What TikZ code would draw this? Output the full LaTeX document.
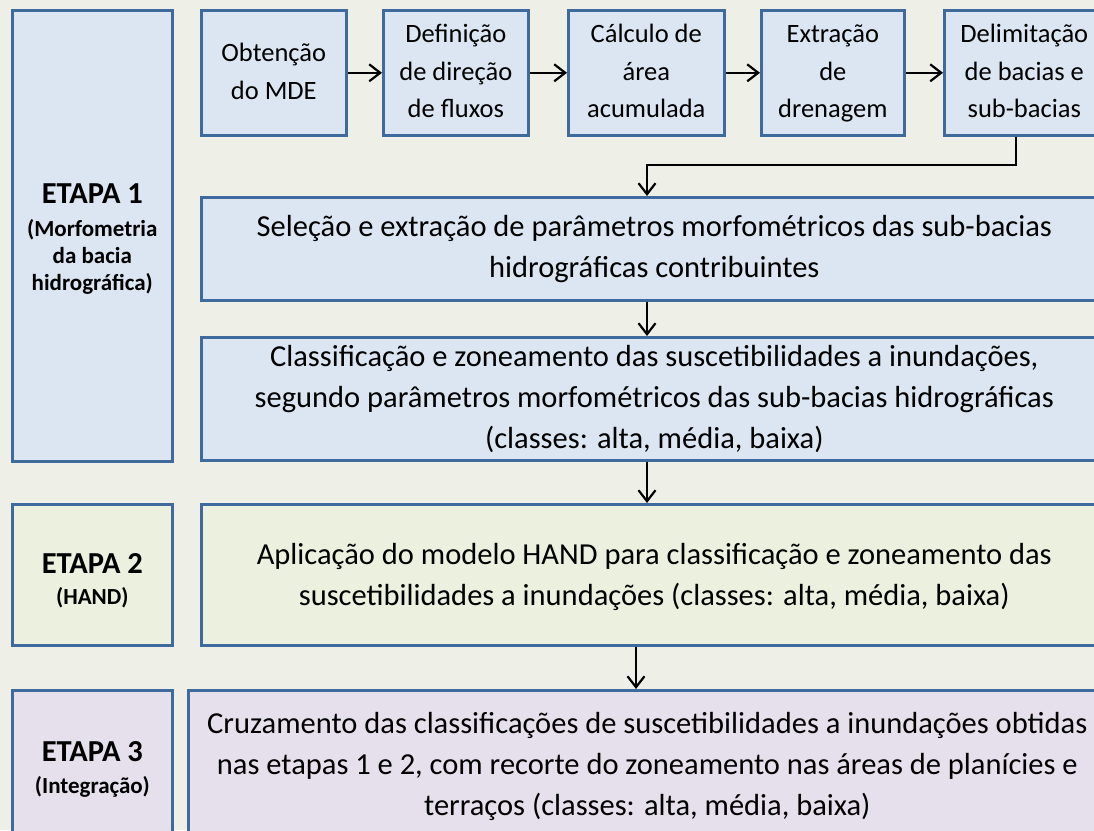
\documentclass[tikz,border=0pt]{standalone}
\usepackage{fontspec}
\setmainfont{Carlito}
\usetikzlibrary{arrows.meta}
\definecolor{bgcol}{HTML}{EEF0E8}
\definecolor{bordercol}{HTML}{3F6A9E}
\definecolor{bluefill}{HTML}{DCE6F2}
\definecolor{greenfill}{HTML}{EBF1DE}
\definecolor{purplefill}{HTML}{E5E0EC}
\newcommand{\topfont}{\fontsize{26.5}{37.5}\selectfont}
\newcommand{\widefont}{\fontsize{30.5}{41}\selectfont}
\newcommand{\etapafont}{\fontsize{30.5}{33}\selectfont\bfseries}
\newcommand{\subfontx}{\fontsize{23}{27}\selectfont\bfseries}
\tikzset{
  box/.style={draw=bordercol, line width=2.6pt, inner sep=0pt, align=center, anchor=north west},
  bluebox/.style={box, fill=bluefill},
  greenbox/.style={box, fill=greenfill},
  purplebox/.style={box, fill=purplefill},
  arr/.style={line width=2.2pt, -{Straight Barb[length=11pt,width=17pt,line width=2.2pt]}},
}
\begin{document}
\begin{tikzpicture}[x=1pt,y=-1pt]
\useasboundingbox (0,0) rectangle (1094,830);
\fill[bgcol] (0,0) rectangle (1094,830);
\begin{scope}
\clip (0,0) rectangle (1094,830);
% Etapa boxes
\node[bluebox, minimum width=160pt, minimum height=451pt, font=\subfontx] (e1) at (11,9)
  {{\etapafont\rule{0pt}{27pt}ETAPA 1}\\[6pt](Morfometria\\da bacia\\hidrográfica)};
\node[greenbox, minimum width=160pt, minimum height=141pt, font=\subfontx] (e2) at (11,503)
  {{\etapafont\rule{0pt}{31pt}ETAPA 2}\\[4pt](HAND)};
\node[purplebox, minimum width=160pt, minimum height=152pt, font=\subfontx] (e3) at (11,689)
  {{\etapafont\rule{0pt}{27pt}ETAPA 3}\\[5pt](Integração)};
% top row
\node[bluebox, minimum width=145pt, minimum height=125pt, font=\topfont] (obt) at (200,9) {\strut Obtenção\\do MDE\strut};
\node[bluebox, minimum width=145pt, minimum height=125pt, font=\topfont] (def) at (382,9) {\strut Definição\\de direção\\de fluxos\strut};
\node[bluebox, minimum width=156pt, minimum height=125pt, font=\topfont] (cal) at (567,9) {\strut Cálculo de\\área\\acumulada\strut};
\node[bluebox, minimum width=143pt, minimum height=125pt, font=\topfont] (ext) at (760,9) {\strut Extração\\de\\drenagem\strut};
\node[bluebox, minimum width=160pt, minimum height=125pt, font=\topfont] (del) at (943,9) {\strut Delimitação\\de bacias e\\sub-bacias\strut};
% wide boxes
\node[bluebox, minimum width=906pt, minimum height=103pt, font=\widefont] (sel) at (200,196)
  {\strut Seleção e extração de parâmetros morfométricos das sub-bacias\\hidrográficas contribuintes\strut};
\node[bluebox, minimum width=906pt, minimum height=122pt, font=\widefont] (cla) at (200,336)
  {\strut Classificação e zoneamento das suscetibilidades a inundações,\\segundo parâmetros morfométricos das sub-bacias hidrográficas\\(classes: alta, média, baixa)\strut};
\node[greenbox, minimum width=906pt, minimum height=141pt, font=\widefont] (hand) at (200,503)
  {\rule{0pt}{32pt}Aplicação do modelo HAND para classificação e zoneamento das\\suscetibilidades a inundações (classes: alta, média, baixa)\strut};
\node[purplebox, minimum width=918pt, minimum height=152pt, font=\widefont] (cru) at (187,689)
  {\strut Cruzamento das classificações de suscetibilidades a inundações obtidas\\nas etapas 1 e 2, com recorte do zoneamento nas áreas de planícies e\\terraços (classes: alta, média, baixa)\strut};
% connectors
\draw[arr] (obt) -- (def);
\draw[arr] (def) -- (cal);
\draw[arr] (cal) -- (ext);
\draw[arr] (ext) -- (del);
\coordinate (k) at (1016,165);
\coordinate (j) at (647,165);
\coordinate (m) at (636,650);
\draw[arr] (k |- del.south) -- (k) -- (j) -- (j |- sel.north);
\draw[arr] (j |- sel.south) -- (j |- cla.north);
\draw[arr] (j |- cla.south) -- (j |- hand.north);
\draw[arr] (m |- hand.south) -- (m |- cru.north);
\end{scope}
\end{tikzpicture}
\end{document}
